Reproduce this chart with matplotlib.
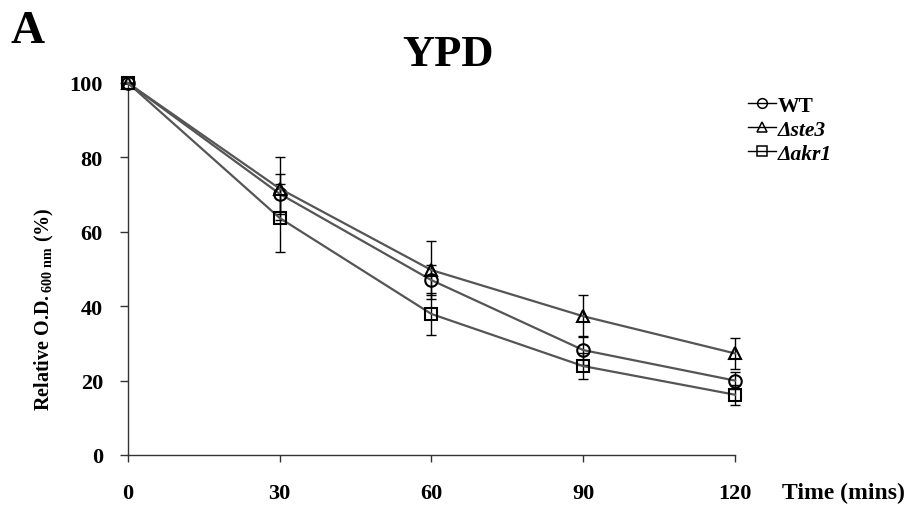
import matplotlib
matplotlib.use("Agg")
import matplotlib.pyplot as plt
from matplotlib.lines import Line2D

plt.rcParams['font.family'] = ['Liberation Serif', 'DejaVu Serif']

time = [0, 30, 60, 90, 120]

wt = [100, 70.2, 47.0, 28.2, 20.0]
wt_err = [0, 5.3, 4.0, 3.9, 2.2]

ste3 = [100, 71.6, 49.7, 37.3, 27.3]
ste3_err = [0, 8.4, 7.8, 5.7, 4.2]

akr1 = [100, 63.7, 37.9, 23.9, 16.2]
akr1_err = [0, 9.1, 5.6, 3.5, 2.7]

series = [
    (wt, wt_err, 'o', 'WT', 'bold', 'normal'),
    (ste3, ste3_err, '^', '\u0394ste3', 'bold', 'italic'),
    (akr1, akr1_err, 's', '\u0394akr1', 'bold', 'italic'),
]

fig = plt.figure(figsize=(9.16, 5.10), dpi=100)
ax = fig.add_axes([0.1397, 0.1059, 0.6627, 0.7294])

for vals, err, m, lab, w, st in series:
    ax.errorbar(time, vals, yerr=err, fmt='none', ecolor='black',
                elinewidth=1.0, capsize=3.5, capthick=1.0, clip_on=False, zorder=2)
    ax.plot(time, vals, color='#555555', lw=1.6, marker=m, ms=9,
            mfc='none', mec='black', mew=1.5, clip_on=False, zorder=3)

ax.set_xlim(0, 120)
ax.set_ylim(0, 100)
ax.set_xticks(time)
ax.set_yticks([0, 20, 40, 60, 80, 100])
for s in ['top', 'right']:
    ax.spines[s].set_visible(False)
for s in ['left', 'bottom']:
    ax.spines[s].set_linewidth(1.0)
    ax.spines[s].set_color('#333333')
ax.tick_params(axis='x', direction='out', length=5, width=1.0, pad=15,
               labelsize=16, color='#333333')
ax.tick_params(axis='y', direction='out', length=6, width=1.0, pad=12,
               labelsize=16, color='#333333')
for t in ax.get_xticklabels() + ax.get_yticklabels():
    t.set_fontweight('bold')

fig.text(0.049, 0.394, r'Relative O.D.$_{\,\mathregular{600\ nm}}$ (%)', fontsize=14.5,
         fontweight='bold', rotation=90, ha='center', va='center')

fig.text(0.854, 0.033, 'Time (mins)', fontsize=17, fontweight='bold',
         ha='left', va='center')
fig.text(0.489, 0.893, 'YPD', fontsize=32, fontweight='bold', ha='center', va='center')
fig.text(0.012, 0.938, 'A', fontsize=34, fontweight='bold', ha='left', va='center')

handles = [Line2D([], [], color='black', lw=1.0, marker=m, ms=7, mfc='none',
                  mec='black', mew=1.1) for _, _, m, _, _, _ in series]
leg = fig.legend(handles, [s[3] for s in series], loc='upper left',
                 bbox_to_anchor=(0.795, 0.848), frameon=False, handlelength=1.3,
                 handletextpad=0.1, labelspacing=0.18, fontsize=15.5)
for txt, s in zip(leg.get_texts(), series):
    txt.set_fontweight(s[4])
    txt.set_fontstyle(s[5])

fig.savefig('out.png', dpi=100)
